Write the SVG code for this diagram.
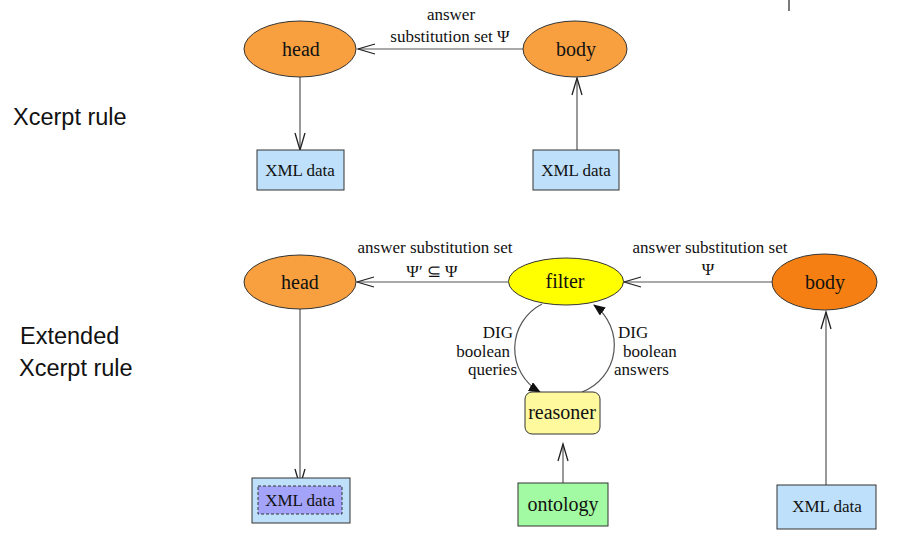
<svg xmlns="http://www.w3.org/2000/svg" width="901" height="551" viewBox="0 0 901 551">
<style>
.node{stroke:#333;stroke-width:1}
.orange{fill:#F8A040}
.dorange{fill:#F57F12}
.yellow{fill:#FFFF00}
.reason{fill:#FFF99E}
.onto{fill:#A2FBA2}
.xml{fill:#BFE0FA}
.inner{fill:#A3A3FA;stroke:#333;stroke-width:1;stroke-dasharray:3,2}
.lbl{font-family:"Liberation Serif","Times New Roman",serif;fill:#111}
.nt{font-size:20px;text-anchor:middle}
.xt{font-size:17px;text-anchor:middle}
.et{font-size:17px}
.side{font-family:"Liberation Sans",Arial,sans-serif;font-size:23.5px;fill:#111}
.conn{stroke:#555;stroke-width:1.2;fill:none}
</style>
<defs>
<marker id="open" markerUnits="userSpaceOnUse" markerWidth="20" markerHeight="12" viewBox="0 0 20 12" refX="18" refY="6" orient="auto">
<path d="M1,1 L18,6 L1,11" fill="none" stroke="#222" stroke-width="1.3"/>
</marker>
<marker id="filled" markerUnits="userSpaceOnUse" markerWidth="12" markerHeight="10" viewBox="0 0 12 10" refX="11" refY="5" orient="auto">
<path d="M0,0 L12,5 L0,10 Z" fill="#111"/>
</marker>
</defs>
<rect width="901" height="551" fill="#fff"/>
<line x1="789" y1="0" x2="789" y2="11" stroke="#222" stroke-width="1.2"/>
<text class="side" x="13" y="125">Xcerpt rule</text>
<text class="side" x="20" y="344">Extended</text>
<text class="side" x="19" y="376">Xcerpt rule</text>

<g id="connectors">
<line class="conn" x1="523" y1="49" x2="358" y2="49" marker-end="url(#open)"/>
<line class="conn" x1="300" y1="77" x2="300" y2="150" marker-end="url(#open)"/>
<line class="conn" x1="577" y1="150" x2="577" y2="78" marker-end="url(#open)"/>
<line class="conn" x1="508" y1="282" x2="357" y2="282" marker-end="url(#open)"/>
<line class="conn" x1="772" y1="282" x2="624" y2="282" marker-end="url(#open)"/>
<line class="conn" x1="300" y1="309" x2="300" y2="486" marker-end="url(#open)"/>
<line class="conn" x1="826" y1="485" x2="826" y2="312" marker-end="url(#open)"/>
<line class="conn" x1="563" y1="483" x2="563" y2="444" marker-end="url(#open)"/>
<path class="conn" d="M542,304 A50,50 0 0,0 540,392" marker-end="url(#filled)"/>
<path class="conn" d="M582,392 A50,50 0 0,0 594,305" marker-end="url(#filled)"/>
<text class="lbl et" x="451" y="20" text-anchor="middle">answer</text>
<text class="lbl et" x="450" y="42" text-anchor="middle">substitution set Ψ</text>
<text class="lbl et" x="435" y="253" text-anchor="middle">answer substitution set</text>
<text class="lbl et" x="432" y="277" text-anchor="middle">Ψ′ ⊆ Ψ</text>
<text class="lbl et" x="710" y="253" text-anchor="middle">answer substitution set</text>
<text class="lbl et" x="708" y="275" text-anchor="middle">Ψ</text>
<text class="lbl et" x="513" y="338" text-anchor="end">DIG</text>
<text class="lbl et" x="510" y="357" text-anchor="end">boolean</text>
<text class="lbl et" x="517" y="375" text-anchor="end">queries</text>
<text class="lbl et" x="618" y="338">DIG</text>
<text class="lbl et" x="623" y="357">boolean</text>
<text class="lbl et" x="614" y="375">answers</text>
</g>

<g id="head1"><ellipse class="node orange" cx="300" cy="49" rx="56" ry="28"/><text class="lbl nt" x="301" y="56">head</text></g>
<g id="body1"><ellipse class="node orange" cx="575" cy="49" rx="52" ry="28"/><text class="lbl nt" x="576" y="56">body</text></g>
<g id="xml1"><rect class="node xml" x="257" y="150" width="87" height="40"/><text class="lbl xt" x="300" y="176">XML data</text></g>
<g id="xml2"><rect class="node xml" x="533" y="150" width="86" height="40"/><text class="lbl xt" x="576" y="176">XML data</text></g>

<g id="head2"><ellipse class="node orange" cx="300" cy="282" rx="56" ry="27"/><text class="lbl nt" x="300" y="289">head</text></g>
<g id="filter"><ellipse class="node yellow" cx="566" cy="281.5" rx="57.5" ry="23.5"/><text class="lbl nt" x="565" y="288">filter</text></g>
<g id="body2"><ellipse class="node dorange" cx="824.5" cy="282" rx="52.5" ry="28"/><text class="lbl nt" x="825" y="289">body</text></g>
<g id="reasoner"><rect class="node reason" x="525" y="392" width="75" height="42" rx="7"/><text class="lbl nt" x="562" y="419">reasoner</text></g>
<g id="ontology"><rect class="node onto" x="518" y="483" width="90" height="43"/><text class="lbl nt" x="563" y="511">ontology</text></g>
<g id="xml3"><rect class="node xml" x="252" y="478" width="98" height="45"/><rect class="inner" x="258" y="486" width="84" height="28"/><text class="lbl xt" x="300" y="506">XML data</text></g>
<g id="xml4"><rect class="node xml" x="777" y="485" width="99" height="44"/><text class="lbl xt" x="827" y="512">XML data</text></g>
</svg>
